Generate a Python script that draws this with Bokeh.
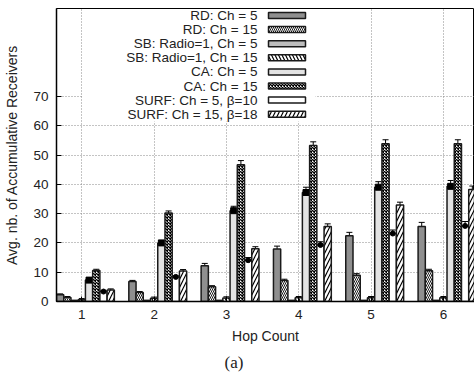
from bokeh.plotting import figure
from bokeh.models import (Range1d, FixedTicker, Whisker, TeeHead, ColumnDataSource, Title)
from bokeh.embed import file_html
from bokeh.resources import INLINE
from bokeh.core.properties import value

# ---------------- data ----------------
hops = [1, 2, 3, 4, 5, 6]
series_names = ["RD: Ch = 5", "RD: Ch = 15", "SB: Radio=1, Ch = 5", "SB: Radio=1, Ch = 15",
                "CA: Ch = 5", "CA: Ch = 15", "SURF: Ch = 5, \u03b2=10", "SURF: Ch = 15, \u03b2=18"]
rd5 = [2.3, 6.8, 12.2, 17.9, 22.4, 25.6]
rd15 = [1.4, 3.1, 5.0, 7.2, 9.0, 10.5]
sb5 = [0.3, 0.3, 0.3, 0.3, 0.3, 0.3]
sb15 = [0.6, 1.1, 1.2, 1.3, 1.3, 1.3]
ca5 = [7.3, 20.0, 31.0, 37.2, 39.0, 39.3]
ca15 = [10.6, 30.2, 46.7, 53.2, 53.8, 53.8]
surf5 = [3.4, 8.4, 14.1, 19.3, 23.2, 25.8]
surf15 = [3.9, 10.4, 18.0, 25.6, 32.9, 38.2]

rd5_err = [0.3, 0.4, 0.8, 1.0, 1.2, 1.4]
rd15_err = [0.3, 0.3, 0.4, 0.4, 0.5, 0.5]
sb5_err = [0.1, 0.1, 0.1, 0.1, 0.1, 0.1]
sb15_err = [0.4, 0.4, 0.4, 0.4, 0.4, 0.4]
ca5_err = [0.5, 0.8, 1.5, 1.8, 1.9, 2.0]
ca15_err = [0.4, 0.7, 1.4, 1.3, 1.4, 1.4]
surf5_err = [0.3, 0.4, 0.9, 1.1, 1.2, 1.5]
surf15_err = [0.4, 0.5, 0.7, 0.9, 1.0, 1.2]

y_ticks = [0, 10, 20, 30, 40, 50, 60, 70]

series = [rd5, rd15, sb5, sb15, ca5, ca15, surf5, surf15]
errors = [rd5_err, rd15_err, sb5_err, sb15_err, ca5_err, ca15_err, surf5_err, surf15_err]

# ---------------- styles ----------------
styles = [
    dict(fill_color="#8f8f8f", hatch_pattern=None),
    dict(fill_color="white", hatch_pattern="left_diagonal_line", hatch_scale=4, hatch_weight=0.9),
    dict(fill_color="#bdbdbd", hatch_pattern=None),
    dict(fill_color="white", hatch_pattern="left_diagonal_line", hatch_scale=7, hatch_weight=1.2),
    dict(fill_color="#e3e3e3", hatch_pattern=None),
    dict(fill_color="white", hatch_pattern="diagonal_cross", hatch_scale=3, hatch_weight=1.4),
    dict(fill_color="white", hatch_pattern=None),
    dict(fill_color="white", hatch_pattern="right_diagonal_line", hatch_scale=8, hatch_weight=1.2),
]

FONT = "Liberation Sans"
bar_w = 0.1
n = len(series)

p = figure(width=474, height=382, output_backend="svg", toolbar_location=None,
           x_range=Range1d(0.65, 6.43), y_range=Range1d(0, 100),
           min_border_left=56, min_border_top=8, min_border_right=0, min_border_bottom=81)
p.background_fill_color = "white"
p.border_fill_color = "white"
p.outline_line_color = "black"
p.outline_line_width = 1

# grid
p.xgrid.ticker = FixedTicker(ticks=hops)
p.ygrid.ticker = FixedTicker(ticks=y_ticks)
for g in (p.xgrid, p.ygrid):
    g.grid_line_color = "#888888"
    g.grid_line_dash = "1 2"
    g.grid_line_width = 1

# axes
p.xaxis.ticker = FixedTicker(ticks=hops)
p.yaxis.ticker = FixedTicker(ticks=y_ticks)
for ax in (p.xaxis[0], p.yaxis[0]):
    ax.axis_line_color = "black"
    ax.axis_line_width = 1.5
    ax.major_tick_in = 5
    ax.major_tick_out = 0
    ax.minor_tick_line_color = None
    ax.major_label_text_font = FONT
    ax.major_label_text_font_size = "13.5px"
    ax.major_label_text_color = "#222222"
    ax.axis_label_text_font = FONT
    ax.axis_label_text_font_size = "14px"
    ax.axis_label_text_font_style = "normal"
    ax.axis_label_text_color = "#222222"
p.xaxis.axis_label = "Hop Count"
p.yaxis.axis_label = "Avg. nb. of Accumulative Receivers"
p.xaxis.major_label_standoff = 8
p.xaxis.axis_label_standoff = 6
p.yaxis.major_label_standoff = 8
p.yaxis.axis_label_standoff = 10

# bars
for i, (vals, errs, st) in enumerate(zip(series, errors, styles)):
    xs = [h + (i - 3) * bar_w for h in hops]
    src = ColumnDataSource(dict(x=xs, top=vals,
                                up=[v + e for v, e in zip(vals, errs)],
                                lo=[v - e for v, e in zip(vals, errs)]))
    kw = dict(fill_color=st["fill_color"], line_color="#1a1a1a", line_width=1.5)
    if st["hatch_pattern"]:
        kw.update(hatch_pattern=st["hatch_pattern"], hatch_color="black",
                  hatch_scale=st["hatch_scale"], hatch_weight=st["hatch_weight"])
    p.vbar(x="x", top="top", bottom=0, width=bar_w, source=src, **kw)
    w = Whisker(source=src, base="x", upper="up", lower="lo", dimension="height",
                line_color="black", line_width=1,
                upper_head=TeeHead(size=6, line_width=1, line_color="black"),
                lower_head=TeeHead(size=6, line_width=1, line_color="black"))
    p.add_layout(w)
    if i == 4:
        p.scatter(x="x", y="top", source=src, marker="square", size=6, color="black")
    if i == 6:
        p.scatter(x="x", y="top", source=src, marker="circle", size=5, color="black")

# ---------------- legend (manual: label left, sample right) ----------------
def px_x(px):
    return 0.65 + (px - 56) / (418 / (6.43 - 0.65))

def px_y(py):
    return (301 - py) / (293 / 100)

p.quad(left=px_x(82), right=px_x(315), top=px_y(8.5), bottom=px_y(121),
       fill_color="white", line_color=None)
row_y = [px_y(15 + 14.1 * k) for k in range(n)]
p.text(x=[px_x(257)] * n, y=row_y, text=series_names, text_align="right",
       text_baseline="middle", text_font=value(FONT), text_font_size="13.5px",
       text_color="#222222")
for k, st in enumerate(styles):
    kw = dict(fill_color=st["fill_color"], line_color="#1a1a1a", line_width=1.5)
    if st["hatch_pattern"]:
        kw.update(hatch_pattern=st["hatch_pattern"], hatch_color="black",
                  hatch_scale=st["hatch_scale"], hatch_weight=st["hatch_weight"])
    p.quad(left=px_x(268), right=px_x(305), top=row_y[k] + px_y(0) - px_y(3),
           bottom=row_y[k] - (px_y(0) - px_y(3)), **kw)

# caption
cap = Title(text="(a)", align="left", offset=168, text_font="Liberation Serif",
            text_font_size="17px", text_font_style="normal", text_color="#222222",
            standoff=8)
p.add_layout(cap, "below")

open("out.html", "w").write(file_html(p, INLINE))
